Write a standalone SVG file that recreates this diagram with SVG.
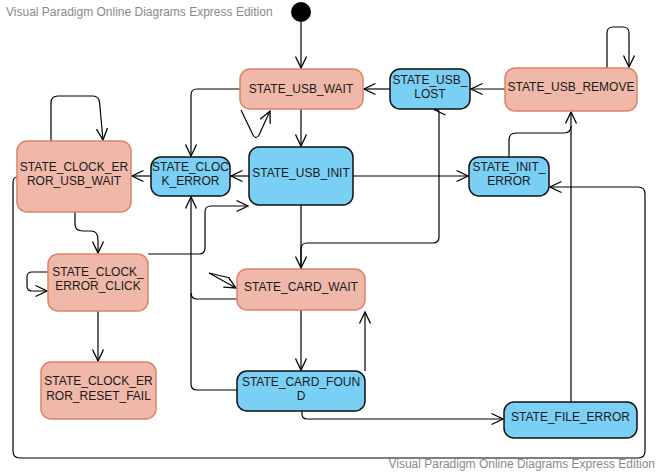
<svg xmlns="http://www.w3.org/2000/svg" width="661" height="474" viewBox="0 0 661 474">
<defs>
<marker id="arr" markerUnits="userSpaceOnUse" markerWidth="16" markerHeight="16" viewBox="-13 -8 16 16" refX="0" refY="0" orient="auto">
<path d="M-11.5,-5.5 L0,0 L-11.5,5.5" fill="none" stroke="#000" stroke-width="1.3"/>
</marker>
</defs>
<style>
.wm{font-family:"Liberation Sans",Arial,sans-serif;font-size:12px;fill:#8a8a8a}
.t{font-family:"Liberation Sans",Arial,sans-serif;font-size:12px;fill:#1a1a1a;text-anchor:middle}
.s{fill:#F0B8A8;stroke:#DC8468;stroke-width:1.5}
.b{fill:#7ACFF5;stroke:#111;stroke-width:1.5}
.c{fill:none;stroke:#000;stroke-width:1.2}
.ca{fill:none;stroke:#000;stroke-width:1.2;marker-end:url(#arr)}
</style>
<rect width="661" height="474" fill="#fff"/>
<text class="wm" x="6" y="16">Visual Paradigm Online Diagrams Express Edition</text>
<text class="wm" x="655" y="468" text-anchor="end">Visual Paradigm Online Diagrams Express Edition</text>

<g id="connectors">
<path class="ca" d="M301,22 L301,68"/>
<path class="ca" d="M301,109 L301,146"/>
<path class="ca" d="M241,110 L253,135 Q256,140 259,135 L270,111"/>
<path class="ca" d="M390,89 L364,89"/>
<path class="ca" d="M505,89 L471,89"/>
<path class="ca" d="M607,68 L607,33 Q607,27 613,27 L623,27 Q629,27 629,33 L629,67"/>
<path class="ca" d="M240,89 L197,89 Q191,89 191,95 L191,156"/>
<path class="ca" d="M249,176 L231,176"/>
<path class="ca" d="M151,176 L132,176"/>
<path class="ca" d="M353,176 L468,176"/>
<path class="ca" d="M51,141 L51,103 Q51,96 58,96 L93,96 Q99,96 99.6,103 L103,140"/>
<path class="ca" d="M75,212 L75,224 Q75,231 83,231 L91,231 Q98,231 98,240 L98,253"/>
<path class="ca" d="M48,272 L32,272 Q27,272 27,277 L27,286 Q27,291 32,291 L47,291"/>
<path class="ca" d="M98,311 L98,361"/>
<path class="ca" d="M148,254 L199,254 Q205,254 205,248 L205,212 Q205,206 211,206 L248,206"/>
<path class="ca" d="M301,205 L301,268"/>
<path class="ca" d="M301,269 L301,249 Q301,243 307,243 L433,243 Q439,243 439,237 L439,112 Q439,109.5 436,109.5 L434,109.5"/>
<path class="ca" d="M301,310 L301,370"/>
<path class="ca" d="M365,371 L365,312"/>
<path class="c" d="M237,299 L197,299 Q191,299 191,293"/>
<path class="ca" d="M237,390 L197,390 Q191,390 191,384 L191,197"/>
<path class="c" d="M209,273 L230,278"/>
<path class="ca" d="M209,273 L236,288"/>
<path class="ca" d="M302,411 L302,414 Q302,419 307,419 L503,419"/>
<path class="ca" d="M571,402 L571,112"/>
<path class="c" d="M509,157 L509,140 Q509,133 516,133 L564,133 Q571,133 571,126"/>
<path class="ca" d="M17,177 Q13,177 13,183 L13,451 Q13,458 20,458 L638,458 Q645,458 645,451 L645,194 Q645,187 638,187 L550,187"/>
</g>

<g id="initial"><circle cx="301" cy="12" r="10" fill="#000"/></g>

<g id="usb_wait"><rect class="s" x="240" y="69" width="123" height="40" rx="10"/><text class="t" x="301" y="93">STATE_USB_WAIT</text></g>
<g id="usb_lost"><rect class="b" x="390" y="69" width="80" height="40" rx="10"/><text class="t" x="430" y="84">STATE_USB_</text><text class="t" x="430" y="98">LOST</text></g>
<g id="usb_remove"><rect class="s" x="505" y="68" width="132" height="43" rx="10"/><text class="t" x="571" y="91">STATE_USB_REMOVE</text></g>
<g id="clock_error_usb_wait"><rect class="s" x="17" y="141" width="114" height="71" rx="10"/><text class="t" x="74" y="171">STATE_CLOCK_ER</text><text class="t" x="74" y="185">ROR_USB_WAIT</text></g>
<g id="clock_error"><rect class="b" x="151" y="157" width="79" height="39" rx="10"/><text class="t" x="190.5" y="171">STATE_CLOC</text><text class="t" x="190.5" y="185">K_ERROR</text></g>
<g id="usb_init"><rect class="b" x="249" y="147" width="104" height="58" rx="10"/><text class="t" x="301" y="177">STATE_USB_INIT</text></g>
<g id="init_error"><rect class="b" x="469" y="157" width="80" height="39" rx="10"/><text class="t" x="509" y="171">STATE_INIT_</text><text class="t" x="509" y="185">ERROR</text></g>
<g id="clock_error_click"><rect class="s" x="48" y="254" width="100" height="57" rx="10"/><text class="t" x="98" y="276">STATE_CLOCK_</text><text class="t" x="98" y="290">ERROR_CLICK</text></g>
<g id="card_wait"><rect class="s" x="237" y="269" width="128" height="41" rx="10"/><text class="t" x="301" y="291">STATE_CARD_WAIT</text></g>
<g id="card_found"><rect class="b" x="237" y="371" width="128" height="40" rx="10"/><text class="t" x="301" y="386">STATE_CARD_FOUN</text><text class="t" x="301" y="400">D</text></g>
<g id="clock_error_reset_fail"><rect class="s" x="41" y="362" width="115" height="57" rx="10"/><text class="t" x="98.5" y="385">STATE_CLOCK_ER</text><text class="t" x="98.5" y="400">ROR_RESET_FAIL</text></g>
<g id="file_error"><rect class="b" x="504" y="402" width="133" height="36" rx="10"/><text class="t" x="570.5" y="421">STATE_FILE_ERROR</text></g>
</svg>
